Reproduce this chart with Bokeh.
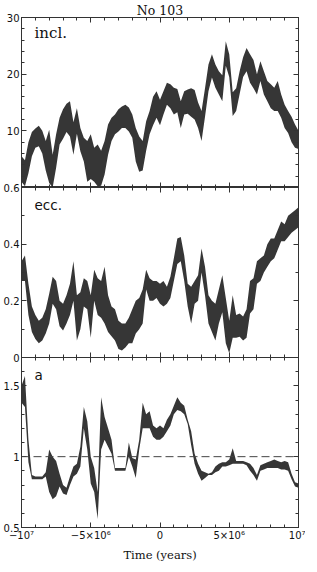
from bokeh.plotting import figure
from bokeh.layouts import column
from bokeh.models import Range1d, FixedTicker, LinearAxis, Span, Label, ColumnDataSource
from bokeh.embed import file_html
from bokeh.resources import INLINE

# ---------------- data ----------------
TIME_MYR = [-10.0, -9.75, -9.5, -9.25, -9.0, -8.75, -8.5, -8.25, -8.0, -7.75,
            -7.5, -7.25, -7.0, -6.75, -6.5, -6.25, -6.0, -5.75, -5.5, -5.25,
            -5.0, -4.75, -4.5, -4.25, -4.0, -3.75, -3.5, -3.25, -3.0, -2.75,
            -2.5, -2.25, -2.0, -1.75, -1.5, -1.25, -1.0, -0.75, -0.5, -0.25,
            0.0,
            0.25, 0.5, 0.75, 1.0, 1.25, 1.5, 1.75, 2.0, 2.25, 2.5,
            2.75, 3.0, 3.25, 3.5, 3.75, 4.0, 4.25, 4.5, 4.75, 5.0,
            5.25, 5.5, 5.75, 6.0, 6.25, 6.5, 6.75, 7.0, 7.25, 7.5,
            7.75, 8.0, 8.25, 8.5, 8.75, 9.0, 9.25, 9.5, 9.75, 10.0]

INCL_HI = [5.5, 4.8, 8.0, 9.8, 10.4, 10.9, 10.0, 8.2, 10.2, 5.8,
           9.4, 12.3, 13.8, 14.8, 15.2, 11.5, 14.0, 10.5, 8.8, 8.2,
           9.4, 7.0, 7.6, 6.5, 8.2, 11.1, 12.3, 12.9, 13.8, 14.3,
           14.6, 14.1, 12.9, 10.5, 9.0, 8.2, 11.7, 13.5, 16.0, 17.0,
           15.5,
           17.0, 18.5, 18.2, 17.6, 17.4, 15.2, 17.0, 17.3, 17.5, 17.2,
           15.0, 13.5, 17.5, 21.7, 23.5, 21.7, 20.5, 19.8, 25.8, 23.5,
           16.8, 17.5, 20.5, 23.0, 24.6, 23.5, 22.5, 20.0, 22.3, 20.5,
           18.8, 18.2, 17.6, 18.8, 16.4, 14.6, 13.5, 12.5, 11.1, 10.0]
INCL_LO = [1.0, 0.2, 2.5, 5.5, 7.0, 7.3, 6.0, 3.0, 0.8, 0.0,
           3.5, 7.6, 8.6, 9.8, 9.0, 5.8, 9.5, 6.4, 4.6, 1.0,
           1.5, 1.0, 0.2, 0.3, 2.3, 5.8, 8.2, 9.4, 9.9, 10.5,
           10.5, 9.9, 8.8, 4.6, 2.8, 3.0, 6.5, 9.4, 11.0, 12.3,
           11.0,
           12.9, 14.6, 14.0, 12.9, 13.3, 10.5, 12.9, 13.0, 12.5, 12.0,
           10.5, 8.2, 12.5, 17.0, 19.4, 17.6, 16.4, 15.2, 21.5, 19.5,
           12.6, 13.5, 16.5, 19.5, 20.5, 18.5, 17.5, 16.4, 18.8, 16.4,
           15.2, 14.0, 13.5, 13.5, 12.3, 10.5, 9.6, 8.0, 7.0, 6.8]

ECC_HI = [0.34, 0.36, 0.26, 0.18, 0.15, 0.13, 0.14, 0.17, 0.225, 0.285,
          0.27, 0.2, 0.19, 0.22, 0.26, 0.34, 0.22, 0.23, 0.28, 0.27,
          0.22, 0.31, 0.28, 0.27, 0.32, 0.22, 0.18, 0.17, 0.13, 0.12,
          0.12, 0.14, 0.17, 0.2, 0.21, 0.24, 0.31, 0.28, 0.27, 0.27,
          0.26,
          0.27, 0.25, 0.285, 0.35, 0.42, 0.425, 0.36, 0.26, 0.25, 0.27,
          0.29, 0.385, 0.32, 0.22, 0.2, 0.19, 0.24, 0.29, 0.21, 0.13,
          0.22, 0.15, 0.155, 0.145, 0.17, 0.27, 0.28, 0.34, 0.35, 0.36,
          0.4, 0.42, 0.42, 0.45, 0.48, 0.47, 0.5, 0.51, 0.52, 0.53]
ECC_LO = [0.27, 0.27, 0.15, 0.09, 0.065, 0.05, 0.06, 0.085, 0.12, 0.19,
          0.17, 0.11, 0.095, 0.12, 0.15, 0.2, 0.06, 0.1, 0.18, 0.17,
          0.07, 0.2, 0.15, 0.14, 0.12, 0.09, 0.075, 0.06, 0.03, 0.025,
          0.035, 0.05, 0.05, 0.085, 0.1, 0.12, 0.24, 0.2, 0.2, 0.21,
          0.19,
          0.18, 0.19, 0.21, 0.27, 0.33, 0.34, 0.27, 0.18, 0.12, 0.19,
          0.2, 0.3, 0.22, 0.12, 0.09, 0.06, 0.12, 0.16, 0.05, 0.015,
          0.07, 0.07, 0.073, 0.06, 0.07, 0.155, 0.17, 0.26, 0.27, 0.3,
          0.32, 0.34, 0.35, 0.38, 0.41, 0.41, 0.425, 0.44, 0.45, 0.46]

A_HI = [1.50, 1.57, 1.12, 0.87, 0.86, 0.86, 0.86, 0.89, 1.05, 1.0,
        0.97, 0.88, 0.8, 0.78, 0.86, 0.93, 0.95, 1.07, 1.35, 1.25,
        1.0, 0.92, 0.75, 1.42, 1.28, 1.2, 1.12, 0.92, 0.92, 0.92,
        0.92, 1.1, 0.99, 0.98, 1.12, 1.38, 1.3, 1.32, 1.22, 1.2,
        1.22,
        1.2, 1.26, 1.3, 1.36, 1.42, 1.38, 1.36, 1.26, 1.18, 1.02,
        0.95, 0.9, 0.89, 0.88, 0.89, 0.93, 0.95, 0.96, 0.96, 0.98,
        1.06, 0.97, 0.97, 0.97, 0.96, 0.95, 0.92, 0.87, 0.94, 0.95,
        0.96, 0.97, 0.98, 0.97, 0.96, 0.97, 0.96, 0.88, 0.82, 0.81]
A_LO = [1.38, 1.35, 0.96, 0.84, 0.84, 0.84, 0.84, 0.86, 0.75, 0.7,
        0.72, 0.79, 0.74, 0.73, 0.8, 0.86, 0.88, 0.93, 1.2, 1.05,
        0.81, 0.75, 0.56, 1.05, 1.12, 1.07, 1.02, 0.9, 0.9, 0.9,
        0.9, 1.0, 0.93, 0.85, 1.05, 1.2, 1.2, 1.2, 1.14, 1.12,
        1.12,
        1.14, 1.18, 1.22, 1.3, 1.33, 1.32, 1.3, 1.23, 1.08, 0.95,
        0.88, 0.83, 0.85, 0.87, 0.87, 0.89, 0.9, 0.93, 0.93, 0.94,
        0.95, 0.95, 0.95, 0.95, 0.94, 0.9, 0.87, 0.83, 0.9, 0.91,
        0.92, 0.92, 0.92, 0.92, 0.91, 0.91, 0.9, 0.84, 0.79, 0.78]

X_TICKS = [-10000000, -5000000, 0, 5000000, 10000000]
X_TICK_LABELS = ["\u221210\u2077", "\u22125\u00d710\u2076", "0", "5\u00d710\u2076", "10\u2077"]
X_MINOR = [i * 1000000 for i in range(-10, 11)]

INCL_TICKS = [0, 10, 20, 30]
INCL_TICK_LABELS = ["", "10", "20", "30"]
INCL_MINOR = [2, 4, 6, 8, 12, 14, 16, 18, 22, 24, 26, 28]

ECC_TICKS = [0, 0.2, 0.4, 0.6]
ECC_TICK_LABELS = ["0", "0.2", "0.4", "0.6"]
ECC_MINOR = [0.1, 0.3, 0.5]

A_TICKS = [0.5, 1, 1.5]
A_TICK_LABELS = ["0.5", "1", "1.5"]
A_MINOR = [0.6, 0.7, 0.8, 0.9, 1.1, 1.2, 1.3, 1.4, 1.6, 1.7]

assert all(len(v) == len(TIME_MYR) for v in (INCL_HI, INCL_LO, ECC_HI, ECC_LO, A_HI, A_LO))

# ---------------- layout constants ----------------
FW, FH = 277, 170
BL, BR = 17, 7
LINE = "#333333"
TICK_FONT = "DejaVu Sans"
SERIF = "DejaVu Serif"

source = ColumnDataSource(dict(
    t=[v * 1e6 for v in TIME_MYR],
    incl_hi=INCL_HI, incl_lo=INCL_LO,
    ecc_hi=ECC_HI, ecc_lo=ECC_LO,
    a_hi=A_HI, a_lo=A_LO,
))


def style_axis(ax, ticks, labels):
    ax.major_tick_in = 5
    ax.major_tick_out = 0
    ax.minor_tick_in = 3
    ax.minor_tick_out = 0
    ax.axis_line_color = LINE
    ax.major_tick_line_color = LINE
    ax.minor_tick_line_color = LINE
    if labels is not None:
        ax.major_label_overrides = {k: v for k, v in zip(ticks, labels)}
        ax.major_label_text_font = TICK_FONT
        ax.major_label_text_font_size = "10px"
        ax.major_label_text_color = "#111111"
        ax.major_label_standoff = 2
    else:
        # tick marks only (as on the reference's top and right edges)
        ax.major_label_overrides = {k: "" for k in ticks}
        ax.major_label_text_font_size = "0px"
        ax.major_label_standoff = 0


def make_fig(yrange, yticks, ylabels, yminor, top, bottom, show_x_labels=False, title=None):
    p = figure(frame_width=FW, frame_height=FH,
               x_range=Range1d(-1e7, 1e7), y_range=yrange,
               output_backend="svg", toolbar_location=None,
               x_axis_location=None, y_axis_location=None,
               min_border_left=BL, min_border_right=BR,
               min_border_top=top, min_border_bottom=bottom,
               title=title)
    p.grid.visible = False
    p.background_fill_color = None
    p.border_fill_color = None
    p.outline_line_color = LINE

    xt = FixedTicker(ticks=X_TICKS, minor_ticks=X_MINOR)
    yt = FixedTicker(ticks=yticks, minor_ticks=yminor)

    left = LinearAxis(ticker=yt)
    style_axis(left, yticks, ylabels)
    right = LinearAxis(ticker=yt)
    style_axis(right, yticks, None)
    above = LinearAxis(ticker=xt)
    style_axis(above, X_TICKS, None)
    below = LinearAxis(ticker=xt)
    style_axis(below, X_TICKS, X_TICK_LABELS if show_x_labels else None)
    p.add_layout(left, "left")
    p.add_layout(right, "right")
    p.add_layout(above, "above")
    p.add_layout(below, "below")
    return p, below


# ---- incl. ----
p1, _ = make_fig(Range1d(0, 30), INCL_TICKS, INCL_TICK_LABELS, INCL_MINOR, 16, 0, title="No 103")
p1.title.align = "center"
p1.title.text_font = SERIF
p1.title.text_font_size = "12.5px"
p1.title.text_font_style = "normal"
p1.title.text_color = "#111111"
p1.title.standoff = 0
p1.title.offset = 0
p1.varea(x="t", y1="incl_lo", y2="incl_hi", source=source, fill_color="#1a1a1a", fill_alpha=0.88)
p1.add_layout(Label(x=-9.06e6, y=27.2, text="incl.", text_font=SERIF, text_font_size="15px",
                    text_baseline="middle", text_align="left", text_color="#111111"))

# ---- ecc. ----
p2, _ = make_fig(Range1d(0, 0.6), ECC_TICKS, ECC_TICK_LABELS, ECC_MINOR, 8, 8)
p2.margin = (-8, 0, -8, 0)
p2.varea(x="t", y1="ecc_lo", y2="ecc_hi", source=source, fill_color="#1a1a1a", fill_alpha=0.88)
p2.add_layout(Label(x=-9.06e6, y=0.54, text="ecc.", text_font=TICK_FONT, text_font_size="13.5px",
                    text_baseline="middle", text_align="left", text_color="#111111"))

# ---- a ----
p3, below3 = make_fig(Range1d(0.5, 1.7), A_TICKS, A_TICK_LABELS, A_MINOR, 0, 28, show_x_labels=True)
below3.axis_label = "Time (years)"
below3.axis_label_text_font = SERIF
below3.axis_label_text_font_size = "11.5px"
below3.axis_label_text_font_style = "normal"
below3.axis_label_text_color = "#111111"
below3.axis_label_standoff = 4
p3.add_layout(Span(location=1.0, dimension="width", line_color="#444444",
                   line_dash="8 4", line_width=1))
p3.varea(x="t", y1="a_lo", y2="a_hi", source=source, fill_color="#1a1a1a", fill_alpha=0.88)
p3.add_layout(Label(x=-9.06e6, y=1.58, text="a", text_font=TICK_FONT, text_font_size="13.5px",
                    text_baseline="middle", text_align="left", text_color="#111111"))

layout = column(p1, p2, p3, spacing=0)
open("out.html", "w").write(file_html(layout, INLINE))
